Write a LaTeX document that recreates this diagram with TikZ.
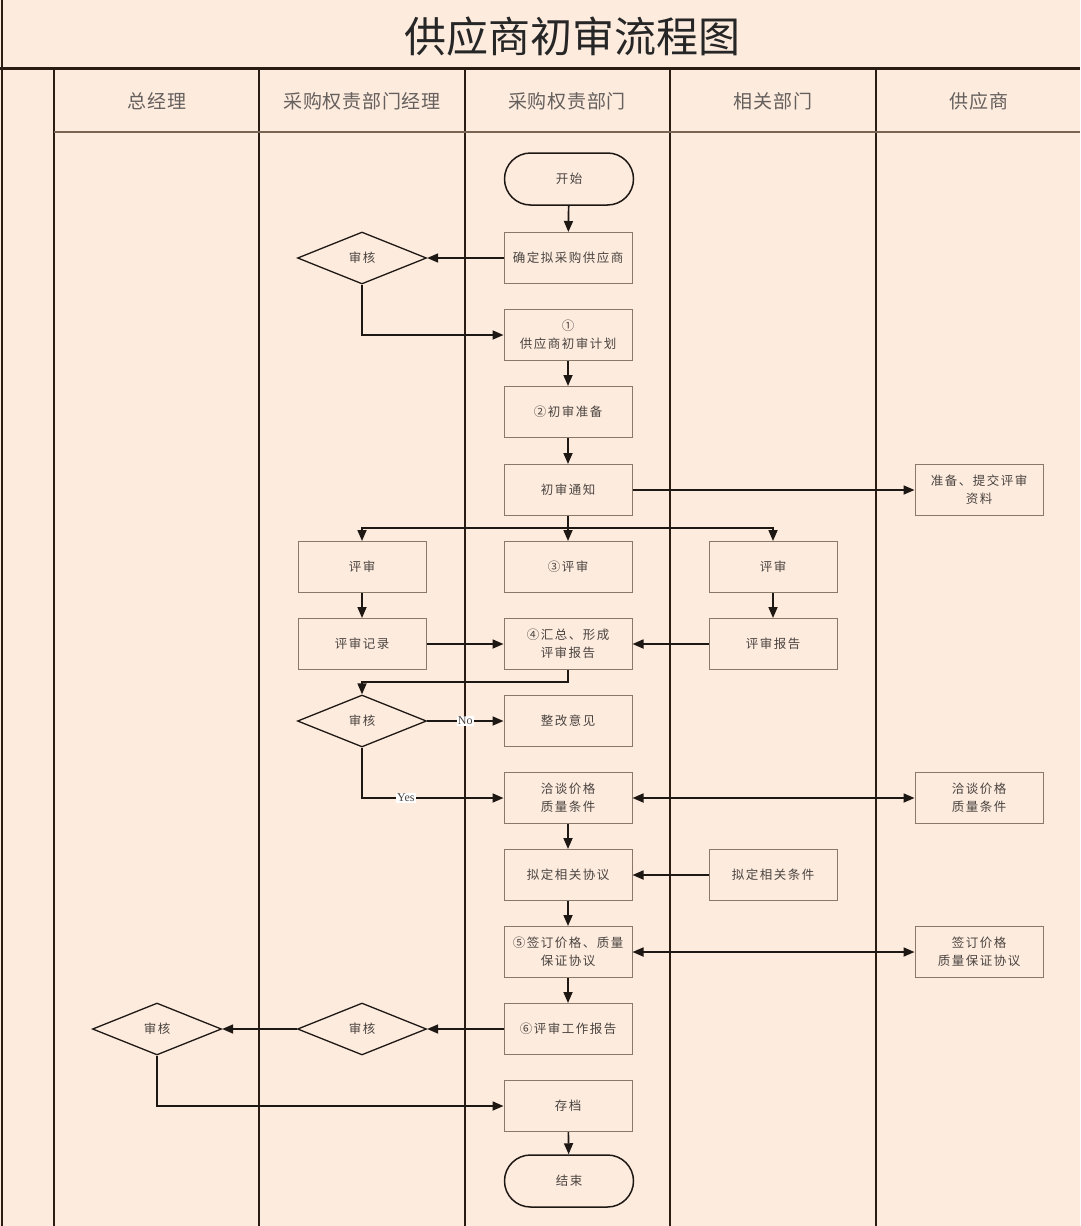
\documentclass[tikz,border=0pt]{standalone}
\usepackage{fontspec}
\setmainfont{Noto Sans CJK SC}
\newfontfamily\boxfont[LetterSpace=12]{Noto Sans CJK SC}
\newfontfamily\hdrfont[LetterSpace=4]{Noto Sans CJK SC}
\newfontfamily\labfont{Liberation Serif}
\usetikzlibrary{shapes.geometric,arrows.meta}
\definecolor{bg}{HTML}{FDEBDE}
\definecolor{lane}{HTML}{2A1C12}
\definecolor{hdrline}{HTML}{7A6452}
\definecolor{boxc}{HTML}{8A7868}
\definecolor{txt}{HTML}{4A4440}
\definecolor{conn}{HTML}{1E1814}
\tikzset{
  laneline/.style={line width=2pt,draw=lane},
  hdr/.style={font=\hdrfont\fontsize{19}{22}\selectfont,text=txt!85},
  procbox/.style={draw=boxc,line width=1pt,minimum width=128pt,minimum height=51pt,inner sep=0pt,align=center,text=txt,font=\boxfont\fontsize{12.5}{18}\selectfont},
  stadium/.style={draw=conn,line width=1.5pt,minimum width=129pt,minimum height=52pt,rounded corners=26pt,inner sep=0pt,text=txt,font=\boxfont\fontsize{12.5}{18}\selectfont},
  decision/.style={diamond,draw=conn,line width=1.3pt,minimum width=129pt,minimum height=52pt,inner sep=0pt,text=txt,font=\boxfont\fontsize{12.5}{18}\selectfont},
  conline/.style={line width=1.7pt,draw=conn},
  arr/.style={conline,-{Triangle[length=11pt,width=9pt]}},
  arrtwo/.style={conline,{Triangle[length=11pt,width=9pt]}-{Triangle[length=11pt,width=9pt]}},
  lab/.style={fill=white,inner sep=1pt,text=txt,font=\labfont\fontsize{12}{14}\selectfont}
}
\begin{document}
\begin{tikzpicture}[x=1pt,y=-1pt]
\fill[bg] (0,0) rectangle (1080,1226);
\useasboundingbox (0,0) rectangle (1080,1226);
% frame and lanes
\draw[laneline] (2,0) -- (2,1226);
\draw[line width=3pt,draw=lane] (0,68) -- (1080,68);
\foreach \x in {54,259,465,670,876} \draw[laneline] (\x,68) -- (\x,1226);
\draw[line width=1.5pt,draw=hdrline] (54,132) -- (1080,132);
% title and headers
\node[text=black!85,font=\fontsize{42}{46}\selectfont] (title) at (572,37) {供应商初审流程图};
\node[hdr] (h1) at (157,101) {总经理};
\node[hdr] (h2) at (362,101) {采购权责部门经理};
\node[hdr] (h3) at (567,101) {采购权责部门};
\node[hdr] (h4) at (773,101) {相关部门};
\node[hdr] (h5) at (979,101) {供应商};
% column 3
\node[stadium] (start) at (569,179) {开始};
\node[procbox] (b1) at (568,258) {确定拟采购供应商};
\node[procbox] (b2) at (568,335) {①\\供应商初审计划};
\node[procbox] (b3) at (568,412) {②初审准备};
\node[procbox] (b4) at (568,490) {初审通知};
\node[procbox] (b5) at (568,567) {③评审};
\node[procbox] (b6) at (568,644) {④汇总、形成\\评审报告};
\node[procbox] (b7) at (568,721) {整改意见};
\node[procbox] (b8) at (568,798) {洽谈价格\\质量条件};
\node[procbox] (b9) at (568,875) {拟定相关协议};
\node[procbox] (b10) at (568,952) {⑤签订价格、质量\\保证协议};
\node[procbox] (b11) at (568,1029) {⑥评审工作报告};
\node[procbox] (b12) at (568,1106) {存档};
\node[stadium] (end) at (569,1181) {结束};
% column 2
\node[decision] (d1) at (362,258) {审核};
\node[procbox] (c2a) at (362,567) {评审};
\node[procbox] (c2b) at (362,644) {评审记录};
\node[decision] (d2) at (362,721) {审核};
\node[decision] (d3) at (362,1029) {审核};
% column 1
\node[decision] (d4) at (157,1029) {审核};
% column 4
\node[procbox] (c4a) at (773,567) {评审};
\node[procbox] (c4b) at (773,644) {评审报告};
\node[procbox] (c4c) at (773,875) {拟定相关条件};
% column 5
\node[procbox] (s1) at (979,490) {准备、提交评审\\资料};
\node[procbox] (s2) at (979,798) {洽谈价格\\质量条件};
\node[procbox] (s3) at (979,952) {签订价格\\质量保证协议};
% connectors
\draw[arr] (start) -- (b1);
\draw[arr] (b1) -- (d1);
\draw[arr] (d1.south) |- (b2.west);
\draw[arr] (b2) -- (b3);
\draw[arr] (b3) -- (b4);
\draw[arr] (b4) -- (s1);
\coordinate (br) at (568,528);
\draw[conline] (b4.south) -- (br);
\draw[arr] (br) -| (c2a.north);
\draw[arr] (br) -| (c4a.north);
\draw[arr] (br) -- (b5.north);
\draw[arr] (c2a) -- (c2b);
\draw[arr] (c4a) -- (c4b);
\draw[arr] (c2b) -- (b6);
\draw[arr] (c4b) -- (b6);
\coordinate (j2) at (568,682);
\draw[arr] (b6.south) -- (j2) -| (d2.north);
\draw[arr] (d2.east) -- node[lab] {No} (b7.west);
\draw[arr] (d2.south) |- node[lab,pos=0.655] {Yes} (b8.west);
\draw[arrtwo] (b8) -- (s2);
\draw[arr] (b8) -- (b9);
\draw[arr] (c4c) -- (b9);
\draw[arr] (b9) -- (b10);
\draw[arrtwo] (b10) -- (s3);
\draw[arr] (b10) -- (b11);
\draw[arr] (b11) -- (d3);
\draw[arr] (d3) -- (d4);
\draw[arr] (d4.south) |- (b12.west);
\draw[arr] (b12) -- (end);
\end{tikzpicture}
\end{document}
